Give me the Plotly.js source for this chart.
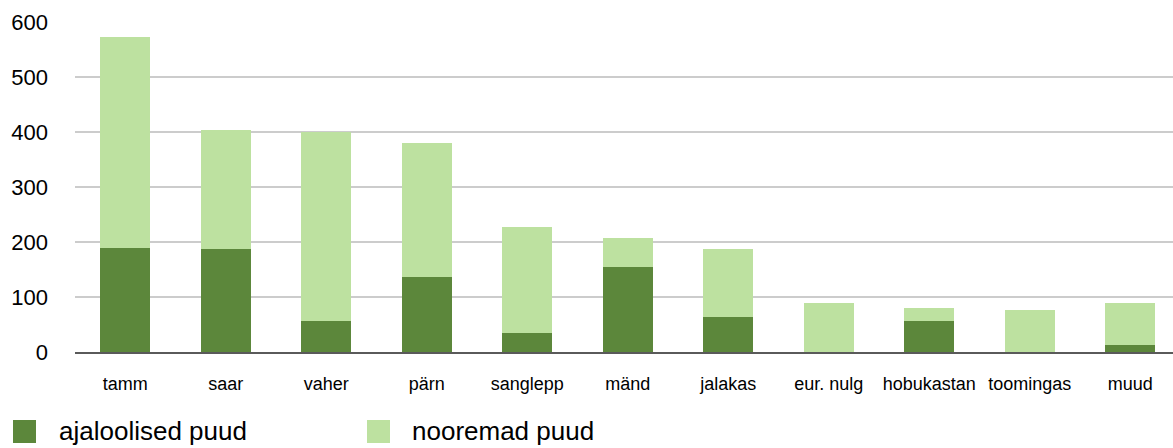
<!DOCTYPE html>
<html>
<head>
<meta charset="utf-8">
<script src="https://cdn.plot.ly/plotly-3.0.1.min.js"></script>
<style>
  html, body { margin: 0; padding: 0; background: #ffffff; }
  #chart { width: 1173px; height: 448px; }
</style>
</head>
<body>
<div id="chart"></div>
<script>
const categories = ['tamm', 'saar', 'vaher', 'pärn', 'sanglepp', 'mänd', 'jalakas', 'eur. nulg', 'hobukastan', 'toomingas', 'muud'];
const ajaloolised = [190, 187, 57, 137, 35, 155, 63, 0, 57, 0, 13];
const nooremad = [382, 217, 343, 243, 192, 52, 124, 90, 23, 77, 77];
const seriesNames = ['ajaloolised puud', 'nooremad puud'];
const seriesColors = ['#5c873b', '#bde1a0'];
const yTicks = [0, 100, 200, 300, 400, 500, 600];

const font = 'Liberation Sans, Arial, Helvetica, sans-serif';

const traces = [
  { type: 'bar', x: categories, y: ajaloolised, name: seriesNames[0],
    marker: { color: seriesColors[0], line: { width: 0 } }, hoverinfo: 'x+y+name' },
  { type: 'bar', x: categories, y: nooremad, name: seriesNames[1],
    marker: { color: seriesColors[1], line: { width: 0 } }, hoverinfo: 'x+y+name' }
];

// plot area in pixels (for legend placement in paper units)
const W = 1173, H = 448, L = 75, R = 0, T = 22, B = 96;
const pw = W - L - R, ph = H - T - B;
const px = v => (v - L) / pw;
const py = v => (H - B - v) / ph;

const legendItems = [
  { sx0: 13, sx1: 36, tx: 57 },
  { sx0: 367, sx1: 390, tx: 410 }
];

const shapes = legendItems.map((it, i) => ({
  type: 'rect', xref: 'paper', yref: 'paper',
  x0: px(it.sx0), x1: px(it.sx1), y0: py(443), y1: py(420),
  fillcolor: seriesColors[i], line: { width: 0 }
}));

const annotations = legendItems.map((it, i) => ({
  xref: 'paper', yref: 'paper', x: px(it.tx), y: py(431),
  xanchor: 'left', yanchor: 'middle', showarrow: false,
  text: seriesNames[i], font: { family: font, size: 26, color: '#000000' }
}));

const layout = {
  width: W, height: H,
  margin: { l: L, r: R, t: T, b: B, pad: 0 },
  barmode: 'stack',
  bargap: 0.5,
  showlegend: false,
  paper_bgcolor: '#ffffff',
  plot_bgcolor: '#ffffff',
  xaxis: {
    type: 'category',
    range: [-0.5, -0.5 + pw / 100.5],
    showgrid: false,
    zeroline: false,
    showline: true, linecolor: '#5a5a5a', linewidth: 2,
    ticks: '',
    ticklabelstandoff: 14,
    tickfont: { family: font, size: 18, color: '#000000' },
    fixedrange: true
  },
  yaxis: {
    range: [0, 600],
    tickvals: yTicks,
    ticktext: yTicks.map(String),
    showgrid: true, gridcolor: '#cccccc', gridwidth: 2,
    zeroline: false,
    showline: false,
    ticks: '',
    ticklabelstandoff: 26,
    tickfont: { family: font, size: 22, color: '#000000' },
    fixedrange: true
  },
  shapes: shapes,
  annotations: annotations
};

Plotly.newPlot('chart', traces, layout, { displayModeBar: false, staticPlot: true });
</script>
</body>
</html>
